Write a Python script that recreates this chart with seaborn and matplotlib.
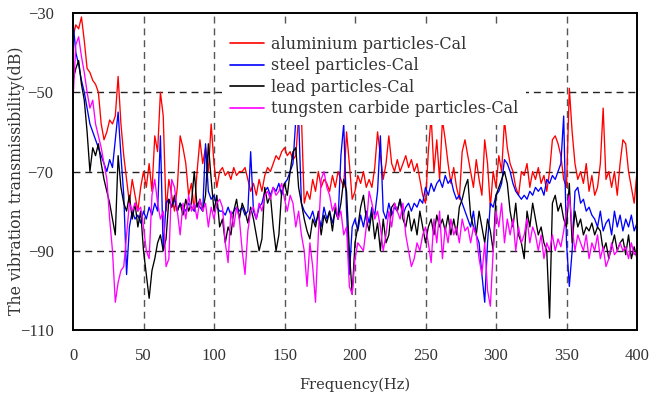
import numpy as np
import pandas as pd
import matplotlib
matplotlib.use("Agg")
import matplotlib.pyplot as plt
import seaborn as sns

# Frequency grid (Hz), 2 Hz sampling
freq = list(range(0, 401, 2))

aluminium = [
    -36, -33, -34, -31, -37, -44, -45, -47, -48, -50,
    -58, -62, -60, -57, -58, -56, -46, -58, -66, -72,
    -78, -72, -76, -80, -74, -70, -74, -68, -75, -61,
    -65, -50, -56, -80, -72, -76, -80, -74, -61, -64,
    -68, -76, -73, -80, -70, -62, -68, -64, -70, -58,
    -68, -74, -70, -69, -71, -70, -72, -69, -71, -70,
    -70, -69, -72, -75, -73, -76, -72, -75, -71, -69,
    -70, -68, -66, -67, -65, -64, -66, -65, -67, -66,
    -56, -56, -78, -75, -77, -72, -75, -70, -74, -72,
    -73, -75, -71, -74, -70, -72, -74, -60, -68, -77,
    -75, -71, -73, -70, -74, -72, -74, -69, -60, -66,
    -72, -68, -61, -68, -70, -67, -70, -68, -66, -69,
    -67, -70, -68, -72, -76, -78, -65, -56, -70, -62,
    -72, -57, -62, -68, -73, -69, -74, -77, -65, -62,
    -66, -70, -74, -67, -72, -76, -62, -68, -79, -70,
    -74, -66, -70, -57, -64, -68, -70, -74, -76, -70,
    -71, -68, -74, -70, -72, -69, -73, -71, -75, -70,
    -62, -61, -63, -66, -72, -74, -49, -60, -68, -72,
    -70, -73, -68, -75, -71, -76, -74, -68, -54, -72,
    -70, -74, -70, -76, -68, -62, -63, -70, -74, -78,
    -70,
]

steel = [
    -32, -40, -43, -47, -50, -54, -58, -60, -62, -64,
    -66, -68, -70, -67, -69, -62, -55, -66, -76, -96,
    -84, -80, -82, -81, -83, -80, -82, -79, -81, -78,
    -80, -61, -90, -78, -77, -79, -77, -80, -78, -79,
    -80, -78, -79, -80, -78, -79, -80, -63, -75, -77,
    -76, -79, -80, -80, -81, -79, -81, -80, -79, -80,
    -79, -81, -80, -65, -80, -82, -79, -78, -75, -74,
    -76, -74, -75, -73, -76, -73, -72, -70, -68, -57,
    -56, -78, -80, -81, -82, -80, -83, -81, -84, -79,
    -82, -80, -83, -80, -82, -66, -58, -80, -96, -84,
    -82, -85, -81, -84, -80, -83, -79, -81, -75, -61,
    -80, -82, -78, -81, -79, -80, -77, -81, -79, -78,
    -80, -78, -79, -77, -78, -74, -76, -73, -75, -73,
    -72, -74, -71, -73, -72, -75, -77, -76, -78, -80,
    -82, -84, -80, -86, -88, -96, -103, -88, -78, -79,
    -76, -75, -73, -67, -68, -70, -73, -75, -76, -77,
    -76, -77, -75, -76, -74, -75, -74, -76, -72, -73,
    -71, -72, -70, -68, -56, -88, -99, -90, -75, -74,
    -78, -77, -80, -79, -81, -82, -84, -80, -85, -83,
    -82, -86, -80, -84, -81, -85, -82, -84, -81, -85,
    -83,
]

lead = [
    -47, -44, -42, -48, -52, -60, -70, -64, -66, -63,
    -68, -72, -75, -78, -82, -86, -66, -74, -78, -80,
    -76, -82, -78, -84, -80, -90, -96, -102, -95, -92,
    -88, -86, -90, -87, -77, -79, -76, -80, -78, -81,
    -77, -80, -78, -70, -79, -77, -80, -76, -63, -72,
    -80, -76, -84, -82, -88, -84, -86, -80, -77, -82,
    -78, -80, -83, -79, -82, -86, -90, -87, -74, -78,
    -76, -84, -90, -86, -75, -73, -76, -70, -65, -64,
    -74, -78, -82, -85, -87, -82, -84, -80, -86, -81,
    -83, -80, -85, -79, -82, -78, -72, -75, -90, -101,
    -88, -84, -79, -76, -82, -85, -80, -87, -83, -90,
    -82, -88, -86, -79, -78, -80, -77, -82, -84, -80,
    -85, -82, -86, -80, -84, -88, -84, -82, -86, -81,
    -84, -82, -85, -81, -86, -82, -86, -79, -77, -74,
    -72, -81, -84, -86, -80, -84, -88, -82, -85, -90,
    -76, -74, -72, -70, -73, -80, -84, -78, -86, -88,
    -92, -80, -84, -78, -82, -86, -84, -88, -90, -107,
    -78, -76, -80, -78, -82, -84, -73, -88, -80, -84,
    -82, -86, -84, -85, -83, -86, -84, -85, -90, -88,
    -92, -89, -86, -90, -88, -87, -91, -86, -92, -89,
    -92,
]

tungsten = [
    -52, -38, -36, -41, -45, -50, -54, -52, -58, -61,
    -64, -68, -72, -82, -90, -103, -98, -95, -94, -86,
    -78, -80, -78, -80, -79, -84, -90, -92, -76, -72,
    -78, -82, -80, -94, -92, -72, -74, -80, -86, -78,
    -82, -76, -80, -78, -82, -77, -80, -78, -84, -79,
    -82, -78, -77, -79, -88, -93, -80, -84, -79, -82,
    -90, -96, -85, -80, -79, -82, -78, -80, -76, -75,
    -77, -74, -76, -75, -73, -77, -80, -76, -78, -84,
    -80, -86, -90, -99, -88, -94, -103, -86, -72, -70,
    -74, -76, -80, -78, -82, -80, -86, -84, -99, -101,
    -92, -88, -89, -90, -84, -75, -78, -82, -80, -84,
    -90, -86, -80, -84, -78, -80, -82, -78, -86, -90,
    -94, -92, -88, -90, -86, -84, -88, -93, -82, -88,
    -80, -92, -84, -88, -82, -86, -84, -88, -82, -85,
    -84, -88, -84, -86, -92, -96, -88, -100, -104, -90,
    -80, -84, -78, -88, -82, -86, -82, -90, -84, -88,
    -86, -82, -88, -84, -86, -90, -86, -92, -88, -90,
    -86, -90, -87, -89, -85, -80, -76, -84, -90, -86,
    -88, -90, -86, -92, -88, -90, -86, -92, -89, -94,
    -92, -88, -91, -90, -88, -90, -89, -92, -88, -91,
    -90,
]

labels = ["aluminium particles-Cal", "steel particles-Cal",
          "lead particles-Cal", "tungsten carbide particles-Cal"]
colors = ["#ff0000", "#0000ff", "#000000", "#ff00ff"]
x_ticks = [0, 50, 100, 150, 200, 250, 300, 350, 400]
y_ticks = [-110, -90, -70, -50, -30]

series = [aluminium, steel, lead, tungsten]
frames = []
for lab, vals in zip(labels, series):
    frames.append(pd.DataFrame({"Frequency": freq, "dB": vals, "series": lab}))
df = pd.concat(frames, ignore_index=True)

sns.set_style("white")
plt.rcParams["font.family"] = ["DejaVu Serif", "DejaVu Sans"]
plt.rcParams["axes.unicode_minus"] = True

fig = plt.figure(figsize=(6.5, 3.93), dpi=100)
ax = fig.add_axes([73 / 650, 63 / 393, 564 / 650, 317 / 393])

sns.lineplot(data=df, x="Frequency", y="dB", hue="series", hue_order=labels,
             palette=dict(zip(labels, colors)), linewidth=0.95, ax=ax,
             estimator=None, sort=False)

ax.set_xlim(0, 400)
ax.set_ylim(-110, -30)
ax.set_xticks(x_ticks)
ax.set_yticks(y_ticks)
ax.tick_params(axis="both", length=0, labelsize=12, colors="#333333")
for t in ax.get_xticklabels() + ax.get_yticklabels():
    t.set_fontfamily(["Liberation Serif", "DejaVu Serif"])
ax.tick_params(axis="x", pad=13)
ax.tick_params(axis="y", pad=14)

ax.set_axisbelow(True)
for xv in x_ticks[1:-1]:
    ax.axvline(xv, color="#555555", lw=1.0, ls=(0, (5, 3.5)), zorder=0)
for yv in y_ticks[1:-1]:
    ax.axhline(yv, color="#222222", lw=1.0, ls=(0, (5, 3.5)), zorder=0)

for sp in ax.spines.values():
    sp.set_visible(True)
    sp.set_color("black")
    sp.set_linewidth(1.4)

ax.set_xlabel("Frequency(Hz)", fontsize=10.5, labelpad=10, color="#333333")
ax.set_ylabel("The vibration transmissibility(dB)", fontsize=11.3,
              color="#333333")
ax.yaxis.set_label_coords(-0.085, 0.47)

leg = ax.legend(loc="upper left", bbox_to_anchor=(222 / 650, 1 - 28 / 393),
                bbox_transform=fig.transFigure, frameon=True, fontsize=11.5,
                handlelength=2.1, handletextpad=0.45, labelspacing=0.28,
                borderpad=0.5, borderaxespad=0)
leg.get_frame().set_facecolor("white")
leg.get_frame().set_edgecolor("none")
leg.get_frame().set_alpha(1)
leg.get_frame().set_boxstyle("square", pad=0)
for line in leg.get_lines():
    line.set_linewidth(1.2)
for t in leg.get_texts():
    t.set_color("#333333")

fig.savefig("out.png", dpi=100)
